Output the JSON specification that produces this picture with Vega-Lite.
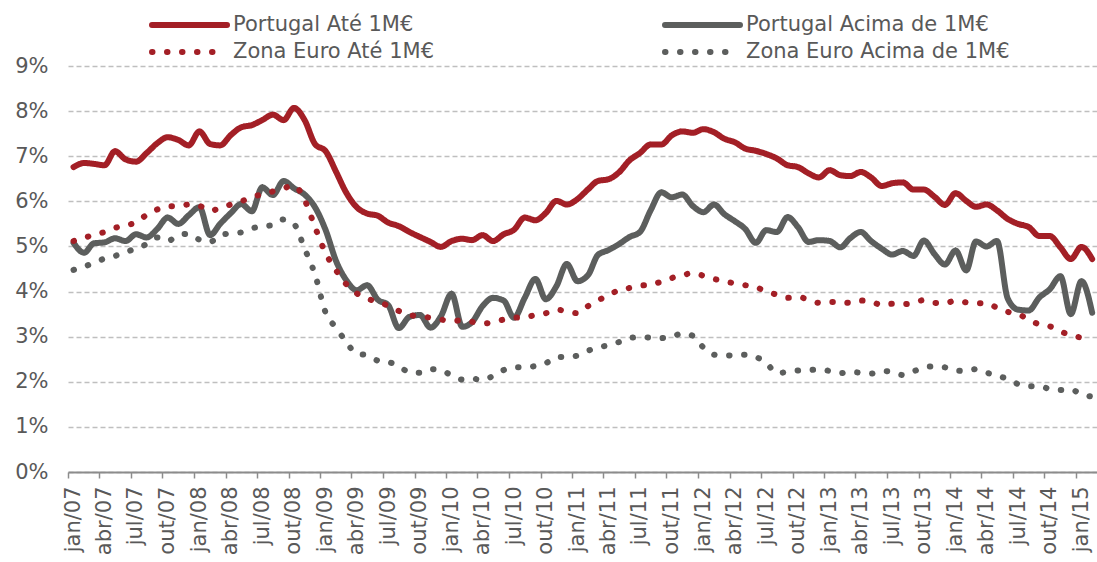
{
  "$schema": "https://vega.github.io/schema/vega-lite/v6.json",
  "width": 1029,
  "height": 406,
  "autosize": {"type": "none"},
  "padding": {"left": 68, "top": 66, "right": 0, "bottom": 90},
  "background": "white",
  "config": {"view": {"stroke": null}, "font": "DejaVu Sans"},
  "data": {"values": [
    {"date":"2007-01-01","series":"Portugal Até 1M€","rate":6.76},{"date":"2007-02-01","series":"Portugal Até 1M€","rate":6.85},{"date":"2007-03-01","series":"Portugal Até 1M€","rate":6.83},{"date":"2007-04-01","series":"Portugal Até 1M€","rate":6.80},{"date":"2007-05-01","series":"Portugal Até 1M€","rate":7.11},{"date":"2007-06-01","series":"Portugal Até 1M€","rate":6.93},{"date":"2007-07-01","series":"Portugal Até 1M€","rate":6.88},{"date":"2007-08-01","series":"Portugal Até 1M€","rate":7.07},{"date":"2007-09-01","series":"Portugal Até 1M€","rate":7.29},{"date":"2007-10-01","series":"Portugal Até 1M€","rate":7.42},{"date":"2007-11-01","series":"Portugal Até 1M€","rate":7.36},{"date":"2007-12-01","series":"Portugal Até 1M€","rate":7.24},
    {"date":"2008-01-01","series":"Portugal Até 1M€","rate":7.55},{"date":"2008-02-01","series":"Portugal Até 1M€","rate":7.27},{"date":"2008-03-01","series":"Portugal Até 1M€","rate":7.24},{"date":"2008-04-01","series":"Portugal Até 1M€","rate":7.47},{"date":"2008-05-01","series":"Portugal Até 1M€","rate":7.64},{"date":"2008-06-01","series":"Portugal Até 1M€","rate":7.69},{"date":"2008-07-01","series":"Portugal Até 1M€","rate":7.80},{"date":"2008-08-01","series":"Portugal Até 1M€","rate":7.92},{"date":"2008-09-01","series":"Portugal Até 1M€","rate":7.80},{"date":"2008-10-01","series":"Portugal Até 1M€","rate":8.07},{"date":"2008-11-01","series":"Portugal Até 1M€","rate":7.80},{"date":"2008-12-01","series":"Portugal Até 1M€","rate":7.27},
    {"date":"2009-01-01","series":"Portugal Até 1M€","rate":7.11},{"date":"2009-02-01","series":"Portugal Até 1M€","rate":6.64},{"date":"2009-03-01","series":"Portugal Até 1M€","rate":6.20},{"date":"2009-04-01","series":"Portugal Até 1M€","rate":5.87},{"date":"2009-05-01","series":"Portugal Até 1M€","rate":5.73},{"date":"2009-06-01","series":"Portugal Até 1M€","rate":5.68},{"date":"2009-07-01","series":"Portugal Até 1M€","rate":5.53},{"date":"2009-08-01","series":"Portugal Até 1M€","rate":5.45},{"date":"2009-09-01","series":"Portugal Até 1M€","rate":5.32},{"date":"2009-10-01","series":"Portugal Até 1M€","rate":5.21},{"date":"2009-11-01","series":"Portugal Até 1M€","rate":5.10},{"date":"2009-12-01","series":"Portugal Até 1M€","rate":4.99},
    {"date":"2010-01-01","series":"Portugal Até 1M€","rate":5.12},{"date":"2010-02-01","series":"Portugal Até 1M€","rate":5.17},{"date":"2010-03-01","series":"Portugal Até 1M€","rate":5.14},{"date":"2010-04-01","series":"Portugal Até 1M€","rate":5.25},{"date":"2010-05-01","series":"Portugal Até 1M€","rate":5.12},{"date":"2010-06-01","series":"Portugal Até 1M€","rate":5.27},{"date":"2010-07-01","series":"Portugal Até 1M€","rate":5.37},{"date":"2010-08-01","series":"Portugal Até 1M€","rate":5.64},{"date":"2010-09-01","series":"Portugal Até 1M€","rate":5.58},{"date":"2010-10-01","series":"Portugal Até 1M€","rate":5.74},{"date":"2010-11-01","series":"Portugal Até 1M€","rate":6.01},{"date":"2010-12-01","series":"Portugal Até 1M€","rate":5.93},
    {"date":"2011-01-01","series":"Portugal Até 1M€","rate":6.05},{"date":"2011-02-01","series":"Portugal Até 1M€","rate":6.27},{"date":"2011-03-01","series":"Portugal Até 1M€","rate":6.45},{"date":"2011-04-01","series":"Portugal Até 1M€","rate":6.49},{"date":"2011-05-01","series":"Portugal Até 1M€","rate":6.64},{"date":"2011-06-01","series":"Portugal Até 1M€","rate":6.91},{"date":"2011-07-01","series":"Portugal Até 1M€","rate":7.07},{"date":"2011-08-01","series":"Portugal Até 1M€","rate":7.26},{"date":"2011-09-01","series":"Portugal Até 1M€","rate":7.26},{"date":"2011-10-01","series":"Portugal Até 1M€","rate":7.46},{"date":"2011-11-01","series":"Portugal Até 1M€","rate":7.55},{"date":"2011-12-01","series":"Portugal Até 1M€","rate":7.52},
    {"date":"2012-01-01","series":"Portugal Até 1M€","rate":7.60},{"date":"2012-02-01","series":"Portugal Até 1M€","rate":7.53},{"date":"2012-03-01","series":"Portugal Até 1M€","rate":7.39},{"date":"2012-04-01","series":"Portugal Até 1M€","rate":7.31},{"date":"2012-05-01","series":"Portugal Até 1M€","rate":7.17},{"date":"2012-06-01","series":"Portugal Até 1M€","rate":7.12},{"date":"2012-07-01","series":"Portugal Até 1M€","rate":7.05},{"date":"2012-08-01","series":"Portugal Até 1M€","rate":6.95},{"date":"2012-09-01","series":"Portugal Até 1M€","rate":6.80},{"date":"2012-10-01","series":"Portugal Até 1M€","rate":6.76},{"date":"2012-11-01","series":"Portugal Até 1M€","rate":6.62},{"date":"2012-12-01","series":"Portugal Até 1M€","rate":6.53},
    {"date":"2013-01-01","series":"Portugal Até 1M€","rate":6.69},{"date":"2013-02-01","series":"Portugal Até 1M€","rate":6.58},{"date":"2013-03-01","series":"Portugal Até 1M€","rate":6.56},{"date":"2013-04-01","series":"Portugal Até 1M€","rate":6.65},{"date":"2013-05-01","series":"Portugal Até 1M€","rate":6.53},{"date":"2013-06-01","series":"Portugal Até 1M€","rate":6.34},{"date":"2013-07-01","series":"Portugal Até 1M€","rate":6.40},{"date":"2013-08-01","series":"Portugal Até 1M€","rate":6.42},{"date":"2013-09-01","series":"Portugal Até 1M€","rate":6.26},{"date":"2013-10-01","series":"Portugal Até 1M€","rate":6.26},{"date":"2013-11-01","series":"Portugal Até 1M€","rate":6.10},{"date":"2013-12-01","series":"Portugal Até 1M€","rate":5.92},
    {"date":"2014-01-01","series":"Portugal Até 1M€","rate":6.18},{"date":"2014-02-01","series":"Portugal Até 1M€","rate":6.01},{"date":"2014-03-01","series":"Portugal Até 1M€","rate":5.88},{"date":"2014-04-01","series":"Portugal Até 1M€","rate":5.93},{"date":"2014-05-01","series":"Portugal Até 1M€","rate":5.80},{"date":"2014-06-01","series":"Portugal Até 1M€","rate":5.61},{"date":"2014-07-01","series":"Portugal Até 1M€","rate":5.50},{"date":"2014-08-01","series":"Portugal Até 1M€","rate":5.43},{"date":"2014-09-01","series":"Portugal Até 1M€","rate":5.23},{"date":"2014-10-01","series":"Portugal Até 1M€","rate":5.23},{"date":"2014-11-01","series":"Portugal Até 1M€","rate":4.98},{"date":"2014-12-01","series":"Portugal Até 1M€","rate":4.72},
    {"date":"2015-01-01","series":"Portugal Até 1M€","rate":4.99},{"date":"2015-02-01","series":"Portugal Até 1M€","rate":4.72},

    {"date":"2007-01-01","series":"Portugal Acima de 1M€","rate":5.08},{"date":"2007-02-01","series":"Portugal Acima de 1M€","rate":4.86},{"date":"2007-03-01","series":"Portugal Acima de 1M€","rate":5.07},{"date":"2007-04-01","series":"Portugal Acima de 1M€","rate":5.09},{"date":"2007-05-01","series":"Portugal Acima de 1M€","rate":5.18},{"date":"2007-06-01","series":"Portugal Acima de 1M€","rate":5.12},{"date":"2007-07-01","series":"Portugal Acima de 1M€","rate":5.27},{"date":"2007-08-01","series":"Portugal Acima de 1M€","rate":5.20},{"date":"2007-09-01","series":"Portugal Acima de 1M€","rate":5.39},{"date":"2007-10-01","series":"Portugal Acima de 1M€","rate":5.64},{"date":"2007-11-01","series":"Portugal Acima de 1M€","rate":5.50},{"date":"2007-12-01","series":"Portugal Acima de 1M€","rate":5.69},
    {"date":"2008-01-01","series":"Portugal Acima de 1M€","rate":5.87},{"date":"2008-02-01","series":"Portugal Acima de 1M€","rate":5.25},{"date":"2008-03-01","series":"Portugal Acima de 1M€","rate":5.50},{"date":"2008-04-01","series":"Portugal Acima de 1M€","rate":5.74},{"date":"2008-05-01","series":"Portugal Acima de 1M€","rate":5.94},{"date":"2008-06-01","series":"Portugal Acima de 1M€","rate":5.78},{"date":"2008-07-01","series":"Portugal Acima de 1M€","rate":6.31},{"date":"2008-08-01","series":"Portugal Acima de 1M€","rate":6.14},{"date":"2008-09-01","series":"Portugal Acima de 1M€","rate":6.45},{"date":"2008-10-01","series":"Portugal Acima de 1M€","rate":6.29},{"date":"2008-11-01","series":"Portugal Acima de 1M€","rate":6.15},{"date":"2008-12-01","series":"Portugal Acima de 1M€","rate":5.87},
    {"date":"2009-01-01","series":"Portugal Acima de 1M€","rate":5.36},{"date":"2009-02-01","series":"Portugal Acima de 1M€","rate":4.66},{"date":"2009-03-01","series":"Portugal Acima de 1M€","rate":4.26},{"date":"2009-04-01","series":"Portugal Acima de 1M€","rate":4.03},{"date":"2009-05-01","series":"Portugal Acima de 1M€","rate":4.14},{"date":"2009-06-01","series":"Portugal Acima de 1M€","rate":3.82},{"date":"2009-07-01","series":"Portugal Acima de 1M€","rate":3.70},{"date":"2009-08-01","series":"Portugal Acima de 1M€","rate":3.19},{"date":"2009-09-01","series":"Portugal Acima de 1M€","rate":3.44},{"date":"2009-10-01","series":"Portugal Acima de 1M€","rate":3.48},{"date":"2009-11-01","series":"Portugal Acima de 1M€","rate":3.20},{"date":"2009-12-01","series":"Portugal Acima de 1M€","rate":3.45},
    {"date":"2010-01-01","series":"Portugal Acima de 1M€","rate":3.95},{"date":"2010-02-01","series":"Portugal Acima de 1M€","rate":3.22},{"date":"2010-03-01","series":"Portugal Acima de 1M€","rate":3.32},{"date":"2010-04-01","series":"Portugal Acima de 1M€","rate":3.68},{"date":"2010-05-01","series":"Portugal Acima de 1M€","rate":3.86},{"date":"2010-06-01","series":"Portugal Acima de 1M€","rate":3.80},{"date":"2010-07-01","series":"Portugal Acima de 1M€","rate":3.42},{"date":"2010-08-01","series":"Portugal Acima de 1M€","rate":3.86},{"date":"2010-09-01","series":"Portugal Acima de 1M€","rate":4.28},{"date":"2010-10-01","series":"Portugal Acima de 1M€","rate":3.83},{"date":"2010-11-01","series":"Portugal Acima de 1M€","rate":4.12},{"date":"2010-12-01","series":"Portugal Acima de 1M€","rate":4.61},
    {"date":"2011-01-01","series":"Portugal Acima de 1M€","rate":4.23},{"date":"2011-02-01","series":"Portugal Acima de 1M€","rate":4.37},{"date":"2011-03-01","series":"Portugal Acima de 1M€","rate":4.81},{"date":"2011-04-01","series":"Portugal Acima de 1M€","rate":4.92},{"date":"2011-05-01","series":"Portugal Acima de 1M€","rate":5.05},{"date":"2011-06-01","series":"Portugal Acima de 1M€","rate":5.21},{"date":"2011-07-01","series":"Portugal Acima de 1M€","rate":5.32},{"date":"2011-08-01","series":"Portugal Acima de 1M€","rate":5.80},{"date":"2011-09-01","series":"Portugal Acima de 1M€","rate":6.20},{"date":"2011-10-01","series":"Portugal Acima de 1M€","rate":6.09},{"date":"2011-11-01","series":"Portugal Acima de 1M€","rate":6.15},{"date":"2011-12-01","series":"Portugal Acima de 1M€","rate":5.90},
    {"date":"2012-01-01","series":"Portugal Acima de 1M€","rate":5.76},{"date":"2012-02-01","series":"Portugal Acima de 1M€","rate":5.93},{"date":"2012-03-01","series":"Portugal Acima de 1M€","rate":5.72},{"date":"2012-04-01","series":"Portugal Acima de 1M€","rate":5.56},{"date":"2012-05-01","series":"Portugal Acima de 1M€","rate":5.39},{"date":"2012-06-01","series":"Portugal Acima de 1M€","rate":5.08},{"date":"2012-07-01","series":"Portugal Acima de 1M€","rate":5.36},{"date":"2012-08-01","series":"Portugal Acima de 1M€","rate":5.32},{"date":"2012-09-01","series":"Portugal Acima de 1M€","rate":5.65},{"date":"2012-10-01","series":"Portugal Acima de 1M€","rate":5.43},{"date":"2012-11-01","series":"Portugal Acima de 1M€","rate":5.10},{"date":"2012-12-01","series":"Portugal Acima de 1M€","rate":5.14},
    {"date":"2013-01-01","series":"Portugal Acima de 1M€","rate":5.12},{"date":"2013-02-01","series":"Portugal Acima de 1M€","rate":4.98},{"date":"2013-03-01","series":"Portugal Acima de 1M€","rate":5.18},{"date":"2013-04-01","series":"Portugal Acima de 1M€","rate":5.32},{"date":"2013-05-01","series":"Portugal Acima de 1M€","rate":5.12},{"date":"2013-06-01","series":"Portugal Acima de 1M€","rate":4.95},{"date":"2013-07-01","series":"Portugal Acima de 1M€","rate":4.82},{"date":"2013-08-01","series":"Portugal Acima de 1M€","rate":4.90},{"date":"2013-09-01","series":"Portugal Acima de 1M€","rate":4.79},{"date":"2013-10-01","series":"Portugal Acima de 1M€","rate":5.13},{"date":"2013-11-01","series":"Portugal Acima de 1M€","rate":4.83},{"date":"2013-12-01","series":"Portugal Acima de 1M€","rate":4.60},
    {"date":"2014-01-01","series":"Portugal Acima de 1M€","rate":4.91},{"date":"2014-02-01","series":"Portugal Acima de 1M€","rate":4.47},{"date":"2014-03-01","series":"Portugal Acima de 1M€","rate":5.11},{"date":"2014-04-01","series":"Portugal Acima de 1M€","rate":5.00},{"date":"2014-05-01","series":"Portugal Acima de 1M€","rate":5.12},{"date":"2014-06-01","series":"Portugal Acima de 1M€","rate":3.85},{"date":"2014-07-01","series":"Portugal Acima de 1M€","rate":3.60},{"date":"2014-08-01","series":"Portugal Acima de 1M€","rate":3.58},{"date":"2014-09-01","series":"Portugal Acima de 1M€","rate":3.87},{"date":"2014-10-01","series":"Portugal Acima de 1M€","rate":4.05},{"date":"2014-11-01","series":"Portugal Acima de 1M€","rate":4.34},{"date":"2014-12-01","series":"Portugal Acima de 1M€","rate":3.50},
    {"date":"2015-01-01","series":"Portugal Acima de 1M€","rate":4.23},{"date":"2015-02-01","series":"Portugal Acima de 1M€","rate":3.53},

    {"date":"2007-01-01","series":"Zona Euro Até 1M€","rate":5.12},{"date":"2007-02-01","series":"Zona Euro Até 1M€","rate":5.19},{"date":"2007-03-01","series":"Zona Euro Até 1M€","rate":5.26},{"date":"2007-04-01","series":"Zona Euro Até 1M€","rate":5.32},{"date":"2007-05-01","series":"Zona Euro Até 1M€","rate":5.41},{"date":"2007-06-01","series":"Zona Euro Até 1M€","rate":5.47},{"date":"2007-07-01","series":"Zona Euro Até 1M€","rate":5.53},{"date":"2007-08-01","series":"Zona Euro Até 1M€","rate":5.70},{"date":"2007-09-01","series":"Zona Euro Até 1M€","rate":5.82},{"date":"2007-10-01","series":"Zona Euro Até 1M€","rate":5.89},{"date":"2007-11-01","series":"Zona Euro Até 1M€","rate":5.89},{"date":"2007-12-01","series":"Zona Euro Até 1M€","rate":5.93},
    {"date":"2008-01-01","series":"Zona Euro Até 1M€","rate":5.90},{"date":"2008-02-01","series":"Zona Euro Até 1M€","rate":5.79},{"date":"2008-03-01","series":"Zona Euro Até 1M€","rate":5.85},{"date":"2008-04-01","series":"Zona Euro Até 1M€","rate":5.93},{"date":"2008-05-01","series":"Zona Euro Até 1M€","rate":6.00},{"date":"2008-06-01","series":"Zona Euro Até 1M€","rate":6.09},{"date":"2008-07-01","series":"Zona Euro Até 1M€","rate":6.16},{"date":"2008-08-01","series":"Zona Euro Até 1M€","rate":6.22},{"date":"2008-09-01","series":"Zona Euro Até 1M€","rate":6.29},{"date":"2008-10-01","series":"Zona Euro Até 1M€","rate":6.35},{"date":"2008-11-01","series":"Zona Euro Até 1M€","rate":6.03},{"date":"2008-12-01","series":"Zona Euro Até 1M€","rate":5.43},
    {"date":"2009-01-01","series":"Zona Euro Até 1M€","rate":4.85},{"date":"2009-02-01","series":"Zona Euro Até 1M€","rate":4.46},{"date":"2009-03-01","series":"Zona Euro Até 1M€","rate":4.17},{"date":"2009-04-01","series":"Zona Euro Até 1M€","rate":3.96},{"date":"2009-05-01","series":"Zona Euro Até 1M€","rate":3.85},{"date":"2009-06-01","series":"Zona Euro Até 1M€","rate":3.76},{"date":"2009-07-01","series":"Zona Euro Até 1M€","rate":3.69},{"date":"2009-08-01","series":"Zona Euro Até 1M€","rate":3.57},{"date":"2009-09-01","series":"Zona Euro Até 1M€","rate":3.48},{"date":"2009-10-01","series":"Zona Euro Até 1M€","rate":3.45},{"date":"2009-11-01","series":"Zona Euro Até 1M€","rate":3.42},{"date":"2009-12-01","series":"Zona Euro Até 1M€","rate":3.38},
    {"date":"2010-01-01","series":"Zona Euro Até 1M€","rate":3.35},{"date":"2010-02-01","series":"Zona Euro Até 1M€","rate":3.36},{"date":"2010-03-01","series":"Zona Euro Até 1M€","rate":3.33},{"date":"2010-04-01","series":"Zona Euro Até 1M€","rate":3.29},{"date":"2010-05-01","series":"Zona Euro Até 1M€","rate":3.32},{"date":"2010-06-01","series":"Zona Euro Até 1M€","rate":3.38},{"date":"2010-07-01","series":"Zona Euro Até 1M€","rate":3.42},{"date":"2010-08-01","series":"Zona Euro Até 1M€","rate":3.43},{"date":"2010-09-01","series":"Zona Euro Até 1M€","rate":3.48},{"date":"2010-10-01","series":"Zona Euro Até 1M€","rate":3.52},{"date":"2010-11-01","series":"Zona Euro Até 1M€","rate":3.60},{"date":"2010-12-01","series":"Zona Euro Até 1M€","rate":3.56},
    {"date":"2011-01-01","series":"Zona Euro Até 1M€","rate":3.52},{"date":"2011-02-01","series":"Zona Euro Até 1M€","rate":3.68},{"date":"2011-03-01","series":"Zona Euro Até 1M€","rate":3.80},{"date":"2011-04-01","series":"Zona Euro Até 1M€","rate":3.92},{"date":"2011-05-01","series":"Zona Euro Até 1M€","rate":4.03},{"date":"2011-06-01","series":"Zona Euro Até 1M€","rate":4.08},{"date":"2011-07-01","series":"Zona Euro Até 1M€","rate":4.13},{"date":"2011-08-01","series":"Zona Euro Até 1M€","rate":4.15},{"date":"2011-09-01","series":"Zona Euro Até 1M€","rate":4.22},{"date":"2011-10-01","series":"Zona Euro Até 1M€","rate":4.30},{"date":"2011-11-01","series":"Zona Euro Até 1M€","rate":4.36},{"date":"2011-12-01","series":"Zona Euro Até 1M€","rate":4.41},
    {"date":"2012-01-01","series":"Zona Euro Até 1M€","rate":4.35},{"date":"2012-02-01","series":"Zona Euro Até 1M€","rate":4.28},{"date":"2012-03-01","series":"Zona Euro Até 1M€","rate":4.23},{"date":"2012-04-01","series":"Zona Euro Até 1M€","rate":4.18},{"date":"2012-05-01","series":"Zona Euro Até 1M€","rate":4.14},{"date":"2012-06-01","series":"Zona Euro Até 1M€","rate":4.10},{"date":"2012-07-01","series":"Zona Euro Até 1M€","rate":4.00},{"date":"2012-08-01","series":"Zona Euro Até 1M€","rate":3.93},{"date":"2012-09-01","series":"Zona Euro Até 1M€","rate":3.86},{"date":"2012-10-01","series":"Zona Euro Até 1M€","rate":3.88},{"date":"2012-11-01","series":"Zona Euro Até 1M€","rate":3.82},{"date":"2012-12-01","series":"Zona Euro Até 1M€","rate":3.75},
    {"date":"2013-01-01","series":"Zona Euro Até 1M€","rate":3.77},{"date":"2013-02-01","series":"Zona Euro Até 1M€","rate":3.77},{"date":"2013-03-01","series":"Zona Euro Até 1M€","rate":3.75},{"date":"2013-04-01","series":"Zona Euro Até 1M€","rate":3.80},{"date":"2013-05-01","series":"Zona Euro Até 1M€","rate":3.78},{"date":"2013-06-01","series":"Zona Euro Até 1M€","rate":3.70},{"date":"2013-07-01","series":"Zona Euro Até 1M€","rate":3.73},{"date":"2013-08-01","series":"Zona Euro Até 1M€","rate":3.72},{"date":"2013-09-01","series":"Zona Euro Até 1M€","rate":3.75},{"date":"2013-10-01","series":"Zona Euro Até 1M€","rate":3.81},{"date":"2013-11-01","series":"Zona Euro Até 1M€","rate":3.75},{"date":"2013-12-01","series":"Zona Euro Até 1M€","rate":3.74},
    {"date":"2014-01-01","series":"Zona Euro Até 1M€","rate":3.80},{"date":"2014-02-01","series":"Zona Euro Até 1M€","rate":3.76},{"date":"2014-03-01","series":"Zona Euro Até 1M€","rate":3.74},{"date":"2014-04-01","series":"Zona Euro Até 1M€","rate":3.74},{"date":"2014-05-01","series":"Zona Euro Até 1M€","rate":3.64},{"date":"2014-06-01","series":"Zona Euro Até 1M€","rate":3.55},{"date":"2014-07-01","series":"Zona Euro Até 1M€","rate":3.50},{"date":"2014-08-01","series":"Zona Euro Até 1M€","rate":3.38},{"date":"2014-09-01","series":"Zona Euro Até 1M€","rate":3.27},{"date":"2014-10-01","series":"Zona Euro Até 1M€","rate":3.23},{"date":"2014-11-01","series":"Zona Euro Até 1M€","rate":3.12},{"date":"2014-12-01","series":"Zona Euro Até 1M€","rate":3.03},
    {"date":"2015-01-01","series":"Zona Euro Até 1M€","rate":2.98},{"date":"2015-02-01","series":"Zona Euro Até 1M€","rate":2.95},

    {"date":"2007-01-01","series":"Zona Euro Acima de 1M€","rate":4.48},{"date":"2007-02-01","series":"Zona Euro Acima de 1M€","rate":4.55},{"date":"2007-03-01","series":"Zona Euro Acima de 1M€","rate":4.64},{"date":"2007-04-01","series":"Zona Euro Acima de 1M€","rate":4.73},{"date":"2007-05-01","series":"Zona Euro Acima de 1M€","rate":4.79},{"date":"2007-06-01","series":"Zona Euro Acima de 1M€","rate":4.87},{"date":"2007-07-01","series":"Zona Euro Acima de 1M€","rate":4.96},{"date":"2007-08-01","series":"Zona Euro Acima de 1M€","rate":5.05},{"date":"2007-09-01","series":"Zona Euro Acima de 1M€","rate":5.20},{"date":"2007-10-01","series":"Zona Euro Acima de 1M€","rate":5.12},{"date":"2007-11-01","series":"Zona Euro Acima de 1M€","rate":5.25},{"date":"2007-12-01","series":"Zona Euro Acima de 1M€","rate":5.28},
    {"date":"2008-01-01","series":"Zona Euro Acima de 1M€","rate":5.15},{"date":"2008-02-01","series":"Zona Euro Acima de 1M€","rate":5.10},{"date":"2008-03-01","series":"Zona Euro Acima de 1M€","rate":5.25},{"date":"2008-04-01","series":"Zona Euro Acima de 1M€","rate":5.29},{"date":"2008-05-01","series":"Zona Euro Acima de 1M€","rate":5.31},{"date":"2008-06-01","series":"Zona Euro Acima de 1M€","rate":5.40},{"date":"2008-07-01","series":"Zona Euro Acima de 1M€","rate":5.45},{"date":"2008-08-01","series":"Zona Euro Acima de 1M€","rate":5.47},{"date":"2008-09-01","series":"Zona Euro Acima de 1M€","rate":5.60},{"date":"2008-10-01","series":"Zona Euro Acima de 1M€","rate":5.50},{"date":"2008-11-01","series":"Zona Euro Acima de 1M€","rate":4.95},{"date":"2008-12-01","series":"Zona Euro Acima de 1M€","rate":4.38},
    {"date":"2009-01-01","series":"Zona Euro Acima de 1M€","rate":3.53},{"date":"2009-02-01","series":"Zona Euro Acima de 1M€","rate":3.19},{"date":"2009-03-01","series":"Zona Euro Acima de 1M€","rate":2.89},{"date":"2009-04-01","series":"Zona Euro Acima de 1M€","rate":2.62},{"date":"2009-05-01","series":"Zona Euro Acima de 1M€","rate":2.59},{"date":"2009-06-01","series":"Zona Euro Acima de 1M€","rate":2.47},{"date":"2009-07-01","series":"Zona Euro Acima de 1M€","rate":2.44},{"date":"2009-08-01","series":"Zona Euro Acima de 1M€","rate":2.35},{"date":"2009-09-01","series":"Zona Euro Acima de 1M€","rate":2.21},{"date":"2009-10-01","series":"Zona Euro Acima de 1M€","rate":2.20},{"date":"2009-11-01","series":"Zona Euro Acima de 1M€","rate":2.28},{"date":"2009-12-01","series":"Zona Euro Acima de 1M€","rate":2.26},
    {"date":"2010-01-01","series":"Zona Euro Acima de 1M€","rate":2.14},{"date":"2010-02-01","series":"Zona Euro Acima de 1M€","rate":2.05},{"date":"2010-03-01","series":"Zona Euro Acima de 1M€","rate":2.07},{"date":"2010-04-01","series":"Zona Euro Acima de 1M€","rate":2.04},{"date":"2010-05-01","series":"Zona Euro Acima de 1M€","rate":2.13},{"date":"2010-06-01","series":"Zona Euro Acima de 1M€","rate":2.26},{"date":"2010-07-01","series":"Zona Euro Acima de 1M€","rate":2.32},{"date":"2010-08-01","series":"Zona Euro Acima de 1M€","rate":2.32},{"date":"2010-09-01","series":"Zona Euro Acima de 1M€","rate":2.35},{"date":"2010-10-01","series":"Zona Euro Acima de 1M€","rate":2.41},{"date":"2010-11-01","series":"Zona Euro Acima de 1M€","rate":2.55},{"date":"2010-12-01","series":"Zona Euro Acima de 1M€","rate":2.55},
    {"date":"2011-01-01","series":"Zona Euro Acima de 1M€","rate":2.58},{"date":"2011-02-01","series":"Zona Euro Acima de 1M€","rate":2.69},{"date":"2011-03-01","series":"Zona Euro Acima de 1M€","rate":2.76},{"date":"2011-04-01","series":"Zona Euro Acima de 1M€","rate":2.81},{"date":"2011-05-01","series":"Zona Euro Acima de 1M€","rate":2.88},{"date":"2011-06-01","series":"Zona Euro Acima de 1M€","rate":2.97},{"date":"2011-07-01","series":"Zona Euro Acima de 1M€","rate":2.99},{"date":"2011-08-01","series":"Zona Euro Acima de 1M€","rate":2.98},{"date":"2011-09-01","series":"Zona Euro Acima de 1M€","rate":2.97},{"date":"2011-10-01","series":"Zona Euro Acima de 1M€","rate":3.00},{"date":"2011-11-01","series":"Zona Euro Acima de 1M€","rate":3.07},{"date":"2011-12-01","series":"Zona Euro Acima de 1M€","rate":3.02},
    {"date":"2012-01-01","series":"Zona Euro Acima de 1M€","rate":2.76},{"date":"2012-02-01","series":"Zona Euro Acima de 1M€","rate":2.60},{"date":"2012-03-01","series":"Zona Euro Acima de 1M€","rate":2.58},{"date":"2012-04-01","series":"Zona Euro Acima de 1M€","rate":2.59},{"date":"2012-05-01","series":"Zona Euro Acima de 1M€","rate":2.60},{"date":"2012-06-01","series":"Zona Euro Acima de 1M€","rate":2.55},{"date":"2012-07-01","series":"Zona Euro Acima de 1M€","rate":2.42},{"date":"2012-08-01","series":"Zona Euro Acima de 1M€","rate":2.19},{"date":"2012-09-01","series":"Zona Euro Acima de 1M€","rate":2.22},{"date":"2012-10-01","series":"Zona Euro Acima de 1M€","rate":2.25},{"date":"2012-11-01","series":"Zona Euro Acima de 1M€","rate":2.26},{"date":"2012-12-01","series":"Zona Euro Acima de 1M€","rate":2.27},
    {"date":"2013-01-01","series":"Zona Euro Acima de 1M€","rate":2.24},{"date":"2013-02-01","series":"Zona Euro Acima de 1M€","rate":2.19},{"date":"2013-03-01","series":"Zona Euro Acima de 1M€","rate":2.22},{"date":"2013-04-01","series":"Zona Euro Acima de 1M€","rate":2.20},{"date":"2013-05-01","series":"Zona Euro Acima de 1M€","rate":2.18},{"date":"2013-06-01","series":"Zona Euro Acima de 1M€","rate":2.24},{"date":"2013-07-01","series":"Zona Euro Acima de 1M€","rate":2.22},{"date":"2013-08-01","series":"Zona Euro Acima de 1M€","rate":2.15},{"date":"2013-09-01","series":"Zona Euro Acima de 1M€","rate":2.23},{"date":"2013-10-01","series":"Zona Euro Acima de 1M€","rate":2.32},{"date":"2013-11-01","series":"Zona Euro Acima de 1M€","rate":2.34},{"date":"2013-12-01","series":"Zona Euro Acima de 1M€","rate":2.32},
    {"date":"2014-01-01","series":"Zona Euro Acima de 1M€","rate":2.25},{"date":"2014-02-01","series":"Zona Euro Acima de 1M€","rate":2.24},{"date":"2014-03-01","series":"Zona Euro Acima de 1M€","rate":2.28},{"date":"2014-04-01","series":"Zona Euro Acima de 1M€","rate":2.20},{"date":"2014-05-01","series":"Zona Euro Acima de 1M€","rate":2.14},{"date":"2014-06-01","series":"Zona Euro Acima de 1M€","rate":2.06},{"date":"2014-07-01","series":"Zona Euro Acima de 1M€","rate":1.95},{"date":"2014-08-01","series":"Zona Euro Acima de 1M€","rate":1.90},{"date":"2014-09-01","series":"Zona Euro Acima de 1M€","rate":1.90},{"date":"2014-10-01","series":"Zona Euro Acima de 1M€","rate":1.84},{"date":"2014-11-01","series":"Zona Euro Acima de 1M€","rate":1.82},{"date":"2014-12-01","series":"Zona Euro Acima de 1M€","rate":1.83},
    {"date":"2015-01-01","series":"Zona Euro Acima de 1M€","rate":1.72},{"date":"2015-02-01","series":"Zona Euro Acima de 1M€","rate":1.67}
  ]},
  "mark": {"type": "line", "interpolate": "monotone", "strokeWidth": 6, "strokeCap": "round", "strokeJoin": "round"},
  "encoding": {
    "x": {
      "field": "date", "type": "temporal",
      "scale": {"type": "utc", "domain": [{"year": 2006, "month": 12, "date": 16, "utc": true}, {"year": 2015, "month": 2, "date": 15, "utc": true}]},
      "axis": {
        "title": null, "grid": false,
        "tickCount": {"interval": "month", "step": 3},
        "labelExpr": "['jan','fev','mar','abr','mai','jun','jul','ago','set','out','nov','dez'][utcmonth(datum.value)] + '/' + utcFormat(datum.value, '%y')",
        "labelAngle": 270, "labelFontSize": 21, "labelColor": "#595959", "labelFont": "DejaVu Sans",
        "labelPadding": 8, "labelOverlap": false, "labelBound": false, "labelFlush": false,
        "domainColor": "#8C8C8C", "domainWidth": 2,
        "tickColor": "#8C8C8C", "tickWidth": 1.5, "tickSize": 6,
        "tickOffset": -5.25, "labelOffset": 5.25
      }
    },
    "y": {
      "field": "rate", "type": "quantitative",
      "scale": {"domain": [0, 9], "nice": false, "zero": true},
      "axis": {
        "title": null, "values": [0,1,2,3,4,5,6,7,8,9],
        "labelExpr": "datum.value + '%'",
        "domain": false, "ticks": false,
        "labelFontSize": 21, "labelColor": "#595959", "labelFont": "DejaVu Sans", "labelPadding": 20,
        "grid": true, "gridColor": "#BFBFBF", "gridDash": [5, 3], "gridWidth": 1.3
      }
    },
    "color": {
      "field": "series", "type": "nominal",
      "scale": {"domain": ["Portugal Até 1M€", "Portugal Acima de 1M€", "Zona Euro Até 1M€", "Zona Euro Acima de 1M€"], "range": ["#A31F26", "#5C5E5D", "#A31F26", "#5C5E5D"]},
      "legend": {"title": null, "orient": "none", "legendX": 81, "legendY": -51, "direction": "horizontal", "columns": 2, "columnPadding": 227, "rowPadding": 6, "clipHeight": 20, "symbolType": "stroke", "symbolSize": 5625, "symbolStrokeWidth": 6, "labelFontSize": 21, "labelColor": "#595959", "labelFont": "DejaVu Sans", "labelLimit": 500, "padding": 0, "labelOffset": 3, "encoding": {"symbols": {"strokeCap": {"value": "round"}}}}
    },
    "strokeDash": {
      "field": "series", "type": "nominal",
      "scale": {"domain": ["Portugal Até 1M€", "Portugal Acima de 1M€", "Zona Euro Até 1M€", "Zona Euro Acima de 1M€"], "range": [[1, 0], [1, 0], [0.5, 14.5], [0.5, 14.5]]},
      "legend": {"title": null, "orient": "none", "legendX": 81, "legendY": -51, "direction": "horizontal", "columns": 2, "columnPadding": 227, "rowPadding": 6, "clipHeight": 20, "symbolType": "stroke", "symbolSize": 5625, "symbolStrokeWidth": 6, "labelFontSize": 21, "labelColor": "#595959", "labelFont": "DejaVu Sans", "labelLimit": 500, "padding": 0, "labelOffset": 3, "encoding": {"symbols": {"strokeCap": {"value": "round"}}}}
    }
  }
}
